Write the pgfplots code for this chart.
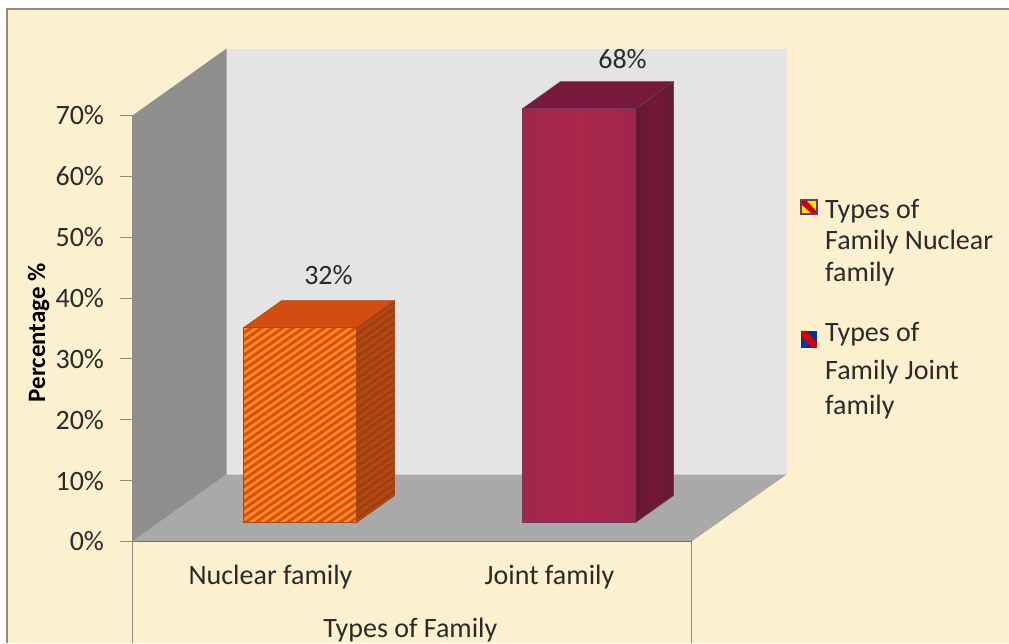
\documentclass[border=0pt]{standalone}
\usepackage{pgfplots}
\pgfplotsset{compat=1.18}
\usepackage{fontspec}
\setmainfont{Carlito}
\usetikzlibrary{patterns.meta}
\definecolor{paper}{HTML}{FDF0CE}
\definecolor{frameline}{HTML}{8F8B85}
\definecolor{backwall}{HTML}{E4E4E4}
\definecolor{sidewall}{HTML}{8F8F8F}
\definecolor{floorgrey}{HTML}{A9A9A9}
\definecolor{labeltext}{HTML}{2A2A2A}
\definecolor{orangefront}{HTML}{FF8A2A}
\definecolor{orangestripe}{HTML}{D8500C}
\definecolor{orangetop}{HTML}{D24E10}
\definecolor{orangeside}{HTML}{B4480F}
\definecolor{orangesidedark}{HTML}{9E3F12}
\definecolor{orangeedge}{HTML}{A8481A}
\definecolor{crimsonmid}{HTML}{AB264A}
\definecolor{crimsonrim}{HTML}{A0264C}
\definecolor{crimsontop}{HTML}{78183A}
\definecolor{crimsonside}{HTML}{601A36}
\definecolor{crimsonsidemid}{HTML}{741833}
\definecolor{crimsonedge}{HTML}{6E3A62}
\begin{document}
\begin{tikzpicture}[x=1pt,y=1pt]
  % page, panel and frame
  \fill[white] (0,0) rectangle (1009,643);
  \fill[paper] (7,0) rectangle (1009,634);
  \draw[frameline,line width=1.2pt] (7,0) -- (7,634) -- (1009,634);
  \begin{axis}[
    at={(132.5pt,101.5pt)}, anchor=south west,
    scale only axis, width=559pt, height=426pt,
    xmin=0, xmax=559, ymin=0, ymax=70,
    clip=false,
    axis lines*=left,
    axis line style={draw=frameline,line width=1pt},
    tick style={draw=frameline,line width=0.9pt},
    tick align=outside,
    major tick length=12pt,
    ytick={0,10,...,70},
    yticklabel={\pgfmathprintnumber{\tick}\%},
    /pgf/number format/assume math mode=true,
    xtick={138,417},
    xticklabels={Nuclear family,Joint family},
    x tick style={draw=none},
    ticklabel style={font=\fontsize{28}{32}\selectfont,text=labeltext},
    yticklabel style={xshift=-13pt},
    xticklabel style={yshift=-8pt},
    xlabel={Types of Family},
    xlabel style={at={(axis description cs:0.497,-0.207)},anchor=center,
      font=\fontsize{28}{32}\selectfont,text=labeltext},
    ylabel={Percentage \%},
    ylabel style={at={(axis description cs:-0.168,0.49)},anchor=center,rotate=0,
      font=\fontsize{25}{29}\selectfont\bfseries,text=black},
  ]
    % walls and floor of the box
    \addplot[fill=backwall,draw=none] coordinates {(94,11) (654,11) (654,81) (94,81)} -- cycle;
    \addplot[fill=sidewall,draw=none] coordinates {(0,0) (94,11) (94,81) (0,70)} -- cycle;
    \addplot[fill=floorgrey,draw=none] coordinates {(0,0) (94,11) (654,11) (559,0)} -- cycle;
    % box round the category labels
    \addplot[frameline,line width=1pt] coordinates {(0,0) (0,-16.6)};
    \addplot[frameline,line width=1pt] coordinates {(559,0) (559,-16.6)};
    \addplot[frameline!80!black,line width=1pt] coordinates {(0,0) (559,0)};

    % Nuclear family: 32%
    \addplot[y filter/.expression={y+3.12},fill=orangeside,draw=orangeedge,line width=0.6pt,
      postaction={pattern={Lines[angle=35,distance=6pt,line width=3pt]},pattern color=orangesidedark}]
      coordinates {(224,0) (262,4.44) (262,36.44) (224,32)} -- cycle;
    \addplot[y filter/.expression={y+3.12},fill=orangetop,draw=orangeedge,line width=0.6pt]
      coordinates {(111,32) (149,36.44) (262,36.44) (224,32)} -- cycle;
    \addplot[y filter/.expression={y+3.12},fill=orangefront,draw=orangeedge,line width=0.6pt,
      postaction={pattern={Lines[angle=35,distance=6pt,line width=3pt]},pattern color=orangestripe}]
      coordinates {(111,0) (224,0) (224,32) (111,32)} -- cycle;

    % Joint family: 68%
    \addplot[y filter/.expression={y+3.12},left color=crimsonside,right color=crimsonside,middle color=crimsonsidemid,draw=crimsonedge,line width=0.6pt]
      coordinates {(503,0) (541,4.44) (541,72.44) (503,68)} -- cycle;
    \addplot[y filter/.expression={y+3.12},fill=crimsontop,draw=crimsonedge,line width=0.6pt]
      coordinates {(390,68) (428,72.44) (541,72.44) (503,68)} -- cycle;
    \addplot[y filter/.expression={y+3.12},left color=crimsonrim,right color=crimsonrim,middle color=crimsonmid,draw=crimsonedge,line width=0.6pt]
      coordinates {(390,0) (503,0) (503,68) (390,68)} -- cycle;

    % value labels
    \node[font=\fontsize{28}{32}\selectfont,text=labeltext] at (axis cs:196,43.8) {32\%};
    \node[font=\fontsize{28}{32}\selectfont,text=labeltext] at (axis cs:490,79.2) {68\%};
  \end{axis}
  % legend
  \begin{scope}
    \fill[yellow!85!orange] (801,429) rectangle (817,443);
    \fill[red!80!black] (801,443) -- (806,443) -- (817,431) -- (817,429) -- (812,429) -- (801,439) -- cycle;
    \draw[crimsonedge,line width=1.2pt] (801,429) rectangle (817,443);
    \fill[blue!55!black!80!cyan] (801,295) rectangle (817,312);
    \fill[red!85!black] (801,312) -- (806,312) -- (817,300) -- (817,295) -- (812,295) -- (801,307) -- cycle;
  \end{scope}
  \begin{scope}[every node/.style={anchor=base west,inner sep=0pt,
      font=\fontsize{28}{32}\selectfont,text=labeltext}]
    \node at (825,424) {Types of};
    \node at (825,393) {Family Nuclear};
    \node at (825,361) {family};
    \node at (825,301) {Types of};
    \node at (825,263) {Family Joint};
    \node at (825,228) {family};
  \end{scope}
  % the page is exactly the panel
  \pgfresetboundingbox
  \path[use as bounding box] (0,0) rectangle (1009,643);
\end{tikzpicture}
\end{document}
